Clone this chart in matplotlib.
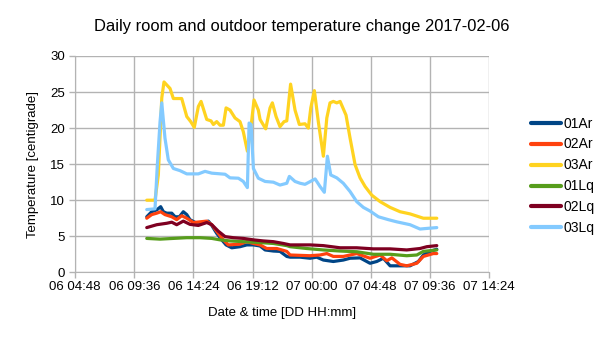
import matplotlib
matplotlib.use("Agg")
import matplotlib.pyplot as plt
import matplotlib.dates as mdates
import numpy as np
import pandas as pd

plt.rcParams['font.family'] = ['Liberation Sans', 'DejaVu Sans']

BASE = pd.Timestamp("2017-02-06 00:00")

# hours since 2017-02-06 00:00, values in centigrade
t_01Ar = [10.61, 11.01, 11.42, 11.74, 11.96, 12.23, 12.64, 12.91, 13.26, 13.58, 13.86, 14.12, 14.67, 15.20,
          15.61, 15.89, 16.29, 16.70, 17.05, 17.51, 18.18, 18.73, 19.27, 19.81, 20.22, 20.89, 21.43, 21.98,
          22.25, 23.06, 23.87, 24.41, 24.95, 25.76, 26.57, 27.12, 27.93, 28.74, 29.29, 29.82, 30.37, 31.18,
          31.99, 32.67, 33.07, 33.62, 34.16]
v_01Ar = [7.7, 8.4, 8.65, 9.1, 8.4, 8.2, 8.2, 7.7, 7.7, 8.4, 8.0, 7.3, 6.8, 6.8,
          7.1, 6.5, 5.4, 4.5, 3.8, 3.4, 3.55, 3.8, 3.8, 3.65, 3.1, 2.95, 2.9, 2.2,
          2.1, 2.1, 1.95, 2.1, 1.7, 1.5, 1.7, 1.95, 2.0, 1.25, 1.5, 1.95, 0.9, 0.9,
          0.9, 1.5, 2.4, 2.9, 3.2]

t_02Ar = [10.61, 11.01, 11.42, 11.74, 12.09, 12.64, 13.04, 13.45, 13.86, 14.39, 14.94, 15.48, 15.89, 16.42,
          16.83, 17.23, 18.18, 18.73, 19.27, 19.81, 20.35, 21.17, 21.98, 22.25, 23.87, 24.68, 25.23, 25.76,
          26.57, 27.66, 28.74, 29.56, 30.10, 30.51, 31.18, 31.72, 32.54, 33.07, 33.88, 34.16]
v_02Ar = [7.5, 8.0, 8.2, 8.4, 8.0, 7.7, 7.3, 7.85, 7.5, 6.9, 7.0, 7.1, 6.6, 5.4,
          4.5, 3.8, 3.9, 4.25, 4.0, 3.8, 3.3, 3.3, 2.9, 2.4, 2.3, 2.4, 2.6, 2.2,
          2.2, 2.6, 1.95, 2.4, 1.6, 2.0, 1.1, 0.9, 1.25, 2.2, 2.6, 2.6]

t_03Ar = [10.61, 11.28, 11.55, 11.83, 12.01, 12.50, 12.77, 13.45, 13.86, 14.18, 14.47, 14.80, 15.02, 15.48,
          15.83, 16.02, 16.29, 16.56, 16.83, 17.05, 17.37, 17.78, 18.18, 18.45, 18.78, 19.05, 19.32, 19.67,
          19.81, 20.27, 20.62, 20.81, 21.11, 21.43, 21.76, 21.98, 22.29, 22.65, 23.00, 23.46, 23.73, 23.93,
          24.22, 24.54, 24.95, 25.23, 25.49, 25.76, 26.04, 26.31, 26.79, 27.12, 27.53, 27.93, 28.34, 28.88,
          29.56, 30.37, 31.18, 31.99, 33.07, 34.16]
v_03Ar = [10.0, 10.0, 13.5, 24.2, 26.4, 25.5, 24.1, 24.1, 21.6, 20.9, 20.1, 23.0, 23.7, 21.2,
          21.0, 20.5, 20.9, 20.4, 20.4, 22.8, 22.5, 21.4, 20.9, 19.5, 16.8, 19.8, 23.9, 22.5,
          21.2, 19.9, 22.8, 23.5, 21.6, 20.2, 20.9, 21.0, 26.1, 22.5, 20.5, 20.6, 20.0, 22.8,
          25.2, 20.9, 16.1, 21.4, 23.5, 23.7, 23.5, 23.7, 21.8, 18.6, 14.9, 13.1, 11.9, 10.7,
          9.8, 9.0, 8.4, 8.1, 7.5, 7.5]

t_01Lq = [10.61, 11.69, 12.77, 13.86, 14.94, 15.89, 16.56, 17.37, 18.45, 19.54, 20.89, 21.98, 22.25, 23.60,
          24.95, 26.31, 27.66, 29.01, 30.37, 31.72, 32.54, 33.07, 34.16]
v_01Lq = [4.7, 4.6, 4.7, 4.8, 4.8, 4.7, 4.5, 4.35, 4.25, 4.15, 4.0, 3.7, 3.55, 3.3,
          3.1, 2.95, 2.85, 2.5, 2.5, 2.3, 2.4, 2.9, 3.1]

t_02Lq = [10.61, 11.42, 12.23, 12.64, 13.04, 13.58, 14.12, 14.80, 15.48, 15.89, 16.42, 16.97, 17.64, 18.45,
          19.27, 20.08, 20.89, 21.70, 22.25, 23.87, 24.95, 26.31, 27.66, 29.01, 30.37, 31.72, 32.80, 33.35,
          34.16]
v_02Lq = [6.2, 6.6, 6.8, 6.95, 6.6, 7.1, 6.65, 6.5, 6.9, 6.6, 5.7, 4.95, 4.8, 4.7,
          4.5, 4.35, 4.25, 4.0, 3.8, 3.8, 3.7, 3.4, 3.4, 3.25, 3.25, 3.1, 3.3, 3.55,
          3.7]

t_03Lq = [10.61, 11.28, 11.47, 11.69, 11.83, 12.09, 12.36, 12.77, 13.31, 13.86, 14.80, 15.34, 15.89, 16.97,
          17.37, 18.05, 18.45, 18.78, 18.92, 19.08, 19.27, 19.67, 20.22, 20.89, 21.43, 21.98, 22.19, 22.65,
          23.06, 23.46, 24.28, 24.68, 25.03, 25.28, 25.55, 26.04, 26.57, 27.12, 27.66, 28.20, 28.74, 29.42,
          30.23, 30.91, 31.99, 32.80, 33.45, 34.16]
v_03Lq = [8.7, 8.8, 14.9, 20.9, 23.5, 18.6, 15.6, 14.4, 14.1, 13.65, 13.65, 14.0, 13.75, 13.6,
          13.1, 13.05, 12.6, 11.75, 20.7, 20.5, 14.4, 13.05, 12.6, 12.5, 12.1, 12.35, 13.3, 12.6,
          12.35, 12.2, 12.95, 11.9, 11.1, 16.1, 13.5, 13.1, 12.35, 11.2, 9.8, 9.0, 8.5, 7.7,
          7.3, 7.0, 6.6, 6.0, 6.1, 6.2]

series_names = ["01Ar", "02Ar", "03Ar", "01Lq", "02Lq", "03Lq"]
series_times = [t_01Ar, t_02Ar, t_03Ar, t_01Lq, t_02Lq, t_03Lq]
series_values = [v_01Ar, v_02Ar, v_03Ar, v_01Lq, v_02Lq, v_03Lq]
colors = ["#004586", "#ff420e", "#ffd320", "#579d1c", "#7e0021", "#83caff"]

title = "Daily room and outdoor temperature change 2017-02-06"
xlabel = "Date & time [DD HH:mm]"
ylabel = "Temperature [centigrade]"
xtick_hours = [4.8, 9.6, 14.4, 19.2, 24.0, 28.8, 33.6, 38.4]
yticks = [0, 5, 10, 15, 20, 25, 30]

def to_dt(hours):
    return BASE + pd.to_timedelta(np.asarray(hours), unit="h")

fig = plt.figure(figsize=(6.05, 3.4), dpi=100)
ax = fig.add_axes([75.2 / 605, 1 - 272.3 / 340, (489 - 75.2) / 605, (272.3 - 56) / 340])

lines = {}
for i in range(len(series_names)):
    ln, = ax.plot(to_dt(series_times[i]), series_values[i], color=colors[i], lw=2.3,
                  label=series_names[i], solid_joinstyle="round", solid_capstyle="round")
    lines[i] = ln

ax.set_xlim(to_dt([xtick_hours[0]])[0], to_dt([xtick_hours[-1]])[0])
ax.set_ylim(0, 30)
ax.set_xticks(to_dt(xtick_hours))
ax.xaxis.set_major_formatter(mdates.DateFormatter("%d %H:%M"))
ax.set_yticks(yticks)

grid_c = "#b3b3b3"
ax.grid(True, color=grid_c, lw=1)
ax.set_axisbelow(True)
for s in ["top", "right"]:
    ax.spines[s].set_visible(False)
for s in ["left", "bottom"]:
    ax.spines[s].set_color(grid_c)
ax.tick_params(axis="both", colors=grid_c, labelcolor="black", labelsize=9.5, length=4, width=1)
ax.tick_params(axis="x", pad=2)

ax.set_xlabel(xlabel, fontsize=9.5, labelpad=10)
ax.set_ylabel(ylabel, fontsize=9.5, labelpad=8)
fig.text(302 / 605, 1 - 26 / 340, title, ha="center", va="center", fontsize=11.9)

leg = fig.legend(handles=[lines[i] for i in range(6)], loc="upper left",
                 bbox_to_anchor=(525 / 605, 1 - 111 / 340), frameon=False,
                 fontsize=10, handlelength=2.17, handletextpad=0.22, labelspacing=0.5,
                 borderaxespad=0)
for h in leg.get_lines():
    h.set_linewidth(3)

fig.savefig("out.png", dpi=100)
